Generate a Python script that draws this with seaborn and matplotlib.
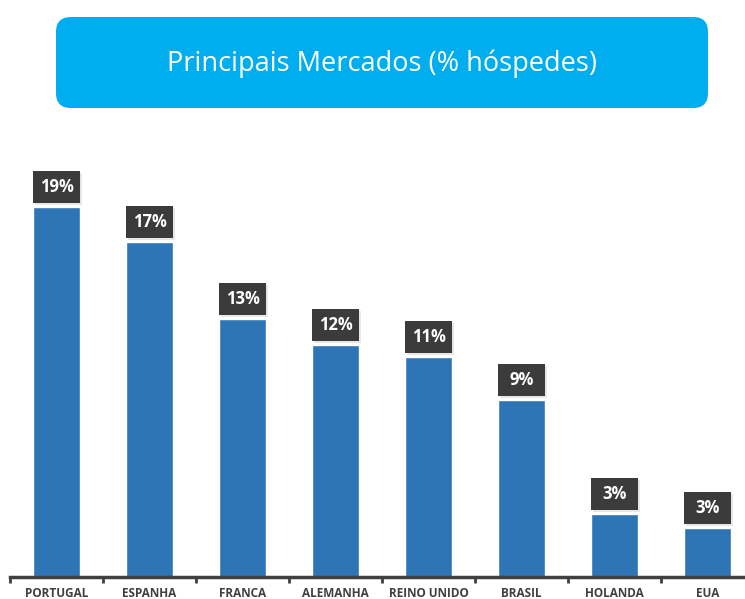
import seaborn as sns
import matplotlib.pyplot as plt
import matplotlib.patheffects as pe
from matplotlib.patches import FancyBboxPatch, Rectangle
import pandas as pd

sns.set_theme(style="white")
plt.rcParams['font.family'] = ['Open Sans', 'DejaVu Sans']

mercados = ["PORTUGAL", "ESPANHA", "FRANCA", "ALEMANHA", "REINO UNIDO", "BRASIL", "HOLANDA", "EUA"]
valores = [18.8, 17.0, 13.1, 11.8, 11.2, 9.0, 3.2, 2.5]
rotulos = ["19%", "17%", "13%", "12%", "11%", "9%", "3%", "3%"]

df = pd.DataFrame({"mercado": mercados, "valor": valores})

fig = plt.figure(figsize=(7.45, 5.99), dpi=100)
ax = fig.add_axes([10 / 745, 22 / 599, 744 / 745, 433 / 599])

sns.barplot(data=df, x="mercado", y="valor", color="#2E75B6", saturation=1,
            width=0.5, ax=ax)
ax.set_xlim(-0.5, 7.5)
ax.set_ylim(0, 22)
ax.set_xlabel("")
ax.set_ylabel("")
ax.set_yticks([])

# dark value boxes above the bars
px = 22 / 433  # data units per pixel
for i, (v, r) in enumerate(zip(valores, rotulos)):
    y0 = v + 4 * px
    box = Rectangle((i - 0.25, y0), 0.5, 32 * px, facecolor="#3b3b3b",
                    edgecolor="none", zorder=5, clip_on=False)
    box.set_path_effects([pe.SimplePatchShadow(offset=(1.5, -1.5), alpha=0.2,
                                               shadow_rgbFace="#888888"),
                          pe.Normal()])
    ax.add_patch(box)
    ax.text(i, y0 + 16 * px, r, ha="center", va="center", color="white",
            fontsize=12, fontweight="bold", zorder=6)

# axis line with boundary ticks
for s in ["top", "right", "left"]:
    ax.spines[s].set_visible(False)
ax.spines["bottom"].set_color("#404040")
ax.spines["bottom"].set_linewidth(2.5)
ax.set_xticks(range(len(mercados)))
ax.set_xticklabels(mercados, fontsize=8.5, fontweight="bold", color="#404040")
ax.tick_params(axis="x", which="major", bottom=True, length=0, pad=7)
ax.set_xticks([i - 0.5 for i in range(len(mercados) + 1)], minor=True)
ax.tick_params(axis="x", which="minor", bottom=True, length=4, width=2,
               color="#404040", direction="out")

# title banner
banner = FancyBboxPatch((56 / 745, 1 - 108 / 599), 652 / 745, 91 / 599,
                        boxstyle="round,pad=0,rounding_size=0.02",
                        transform=fig.transFigure, facecolor="#00AEEF",
                        edgecolor="none", mutation_aspect=745 / 599)
fig.patches.append(banner)
fig.text(382 / 745, 1 - 64 / 599, "Principais Mercados (% hóspedes)",
         ha="center", va="center", color="white", fontsize=19.5)

fig.savefig("out.png", dpi=100)
